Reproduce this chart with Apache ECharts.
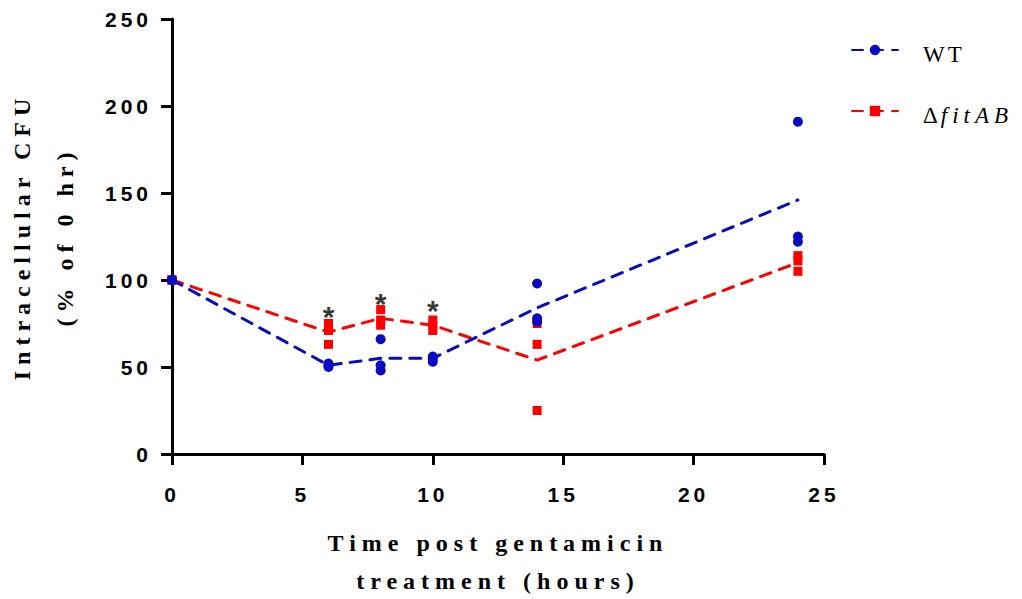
<!DOCTYPE html>
<html>
<head>
<meta charset="utf-8">
<script src="https://cdn.jsdelivr.net/npm/echarts@6/dist/echarts.min.js"></script>
<style>
  html, body { margin: 0; background: #fff; }
  #chart { width: 1022px; height: 599px; }
</style>
</head>
<body>
<div id="chart"></div>
<script>
// time points (hours)
const hours = [0, 6, 8, 10, 14, 24];

// means (dashed lines)
const wtMean  = [100, 51, 55, 55, 84, 146];
const fitMean = [100, 70, 78, 74, 54, 110];

// three replicates per strain, aligned with hours
const wtRep1 = [100, 51, 66, 56, 98, 191];
const wtRep2 = [100, 50, 51, 55, 78, 125];
const wtRep3 = [100, 52, 48, 53, 76, 122];
const fitRep1 = [100, 75, 83, 77, 75, 114];
const fitRep2 = [100, 71, 77, 74, 63, 111];
const fitRep3 = [100, 63, 74, 71, 25, 105];

// significance markers
const starHours = [6, 8, 10];
const starLevel = [81, 88.5, 84];

const xTicks = [0, 5, 10, 15, 20, 25];
const yTicks = [0, 50, 100, 150, 200, 250];

const blue = '#0a0abe';
const red = '#ff0000';

const pair = (xs, ys) => xs.map((x, i) => [x, ys[i]]);
const reps = (list) => list.flatMap(r => pair(hours, r));

const chart = echarts.init(document.getElementById('chart'), null, { renderer: 'svg' });

const dash = { width: 3, type: [11, 9], cap: 'round' };
const serif = 'Liberation Serif';

const option = {
  animation: false,
  grid: { left: 172, right: 198, top: 19, bottom: 145, outerBoundsMode: 'none', containLabel: false },
  legend: {
    data: ['WT', 'ΔfitAB'],
    orient: 'vertical',
    left: 851,
    top: 34,
    padding: 0,
    itemWidth: 46,
    itemHeight: 13,
    itemGap: 29,
    selectedMode: false,
    textStyle: {
      fontFamily: serif,
      fontSize: 23,
      lineHeight: 24,
      color: '#000',
      padding: [8, 0, 0, 20],
      rich: {
        n: { fontFamily: serif, fontSize: 23, color: '#000' },
        d: { fontFamily: serif, fontSize: 23, color: '#000', padding: [0, 3, 0, 0] },
        i: { fontFamily: serif, fontSize: 23, fontStyle: 'italic', color: '#000' }
      }
    },
    formatter: name => name === 'WT' ? '{n|WT}' : '{d|Δ}{i|fitAB}'
  },
  xAxis: {
    type: 'value',
    min: xTicks[0],
    max: xTicks[xTicks.length - 1],
    interval: xTicks[1] - xTicks[0],
    name: 'Time post gentamicin\ntreatment (hours)',
    nameLocation: 'middle',
    nameGap: 70,
    nameTextStyle: {
      fontFamily: serif, fontWeight: 'bold', fontSize: 24,
      lineHeight: 38, color: '#000', verticalAlign: 'top'
    },
    axisLine: { lineStyle: { color: '#000', width: 3 } },
    axisTick: { length: 11, lineStyle: { color: '#000', width: 3 } },
    axisLabel: {
      margin: 30, color: '#000', fontFamily: 'Liberation Sans',
      fontWeight: 'bold', fontSize: 21
    },
    splitLine: { show: false }
  },
  yAxis: {
    type: 'value',
    min: yTicks[0],
    max: yTicks[yTicks.length - 1],
    interval: yTicks[1] - yTicks[0],
    name: 'Intracellular CFU\n(% of 0 hr)',
    nameLocation: 'middle',
    nameRotate: 90,
    nameGap: 86,
    nameTextStyle: {
      fontFamily: serif, fontWeight: 'bold', fontSize: 24,
      lineHeight: 43, color: '#000'
    },
    axisLine: { show: true, lineStyle: { color: '#000', width: 3 } },
    axisTick: { show: true, length: 11, lineStyle: { color: '#000', width: 3 } },
    axisLabel: {
      margin: 20, color: '#000', fontFamily: 'Liberation Sans',
      fontWeight: 'bold', fontSize: 21
    },
    splitLine: { show: false }
  },
  series: [
    {
      name: 'ΔfitAB', type: 'line', data: pair(hours, fitMean),
      symbol: 'rect', symbolSize: 10, showSymbol: false,
      itemStyle: { color: red }, lineStyle: Object.assign({ color: red }, dash),
      z: 2
    },
    {
      name: 'ΔfitAB replicates', type: 'scatter', data: reps([fitRep1, fitRep2, fitRep3]),
      symbol: 'rect', symbolSize: 9, itemStyle: { color: red, opacity: 1 }, z: 3
    },
    {
      name: 'WT', type: 'line', data: pair(hours, wtMean),
      symbol: 'circle', symbolSize: 10, showSymbol: false,
      itemStyle: { color: blue }, lineStyle: Object.assign({ color: blue }, dash),
      z: 4
    },
    {
      name: 'WT replicates', type: 'scatter', data: reps([wtRep1, wtRep2, wtRep3]),
      symbol: 'circle', symbolSize: 10, itemStyle: { color: blue, opacity: 1 }, z: 5
    },
    {
      name: 'significance', type: 'scatter', data: pair(starHours, starLevel),
      symbol: 'circle', symbolSize: 1, itemStyle: { color: 'rgba(0,0,0,0)' },
      label: {
        show: true, formatter: '*', position: 'inside', offset: [0, 3],
        fontFamily: 'Liberation Sans', fontWeight: 'bold', fontSize: 30, color: '#000'
      },
      z: 6
    }
  ]
};

chart.setOption(option);

// Prism-style wide tracking on the axis and legend texts
function spaceOut() {
  document.querySelectorAll('#chart svg text').forEach(t => {
    const txt = t.textContent.trim();
    if (txt === '*' || txt === 'Δ') return;
    const cs = getComputedStyle(t);
    const bold = cs.fontWeight === '700' || cs.fontWeight === 'bold';
    const isSerif = cs.fontFamily.indexOf('Serif') >= 0;
    let ls = 0;
    if (bold && isSerif) ls = 6;
    else if (bold) ls = 4;
    else if (cs.fontStyle === 'italic') ls = 5;
    else if (isSerif) ls = 3;
    if (ls) t.style.letterSpacing = ls + 'px';
  });
}
chart.on('finished', spaceOut);
setTimeout(spaceOut, 50);
</script>
</body>
</html>
